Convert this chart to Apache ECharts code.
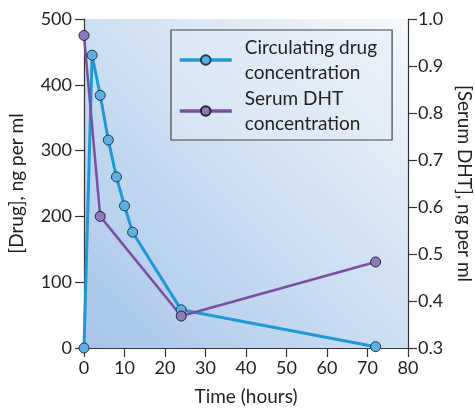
<!DOCTYPE html>
<html><head><meta charset="utf-8">
<script src="https://cdn.jsdelivr.net/npm/echarts@6/dist/echarts.min.js"></script>
<style>html,body{margin:0;padding:0;background:#fff}#c{width:475px;height:412px}</style>
</head><body><div id="c"></div>
<script>
const drugHours = [0, 2, 4, 6, 8, 10, 12, 24, 72];
const drugValues = [0, 445, 384, 316, 260, 216, 176, 58, 2];
const dhtHours = [0, 4, 24, 72];
const dhtValues = [0.965, 0.58, 0.368, 0.483];
const xTicks = [0, 10, 20, 30, 40, 50, 60, 70, 80];
const leftTicks = [0, 100, 200, 300, 400, 500];
const rightTicks = [0.3, 0.4, 0.5, 0.6, 0.7, 0.8, 0.9, 1.0];
const seriesNames = ['Circulating drug\nconcentration', 'Serum DHT\nconcentration'];

const FONT = 'Lato';
const TXT = '#231f20';
const chart = echarts.init(document.getElementById('c'), null, {renderer: 'canvas'});
const axisCommon = {
  axisLine: {show: true, lineStyle: {color: '#333', width: 1.2}},
  axisTick: {show: true, inside: false, length: 9, lineStyle: {color: '#333', width: 1.2}},
  splitLine: {show: false},
  axisLabel: {color: TXT, fontFamily: FONT, fontSize: 18},
  nameTextStyle: {color: TXT, fontFamily: FONT, fontSize: 19}
};
chart.setOption({
  animation: false,
  backgroundColor: '#fff',
  grid: {
    left: 84, right: 67, top: 19, bottom: 64, show: true, borderWidth: 0,
    outerBoundsMode: 'none', containLabel: false,
    backgroundColor: new echarts.graphic.LinearGradient(0, 1, 1, 0, [
      {offset: 0, color: '#a6c5e9'},
      {offset: 0.5, color: '#cddff2'},
      {offset: 1, color: '#f5f8fc'}
    ])
  },
  legend: {
    orient: 'vertical', left: 171, top: 30,
    padding: [5, 15, 4, 7], itemGap: 1,
    itemWidth: 52, itemHeight: 12,
    borderColor: '#444', borderWidth: 1.2, backgroundColor: 'rgba(225,235,247,0.5)',
    lineStyle: {width: 3.5},
    textStyle: {color: TXT, fontFamily: FONT, fontSize: 19, lineHeight: 25, padding: [0, 0, 0, 8]},
    data: seriesNames
  },
  xAxis: Object.assign({}, axisCommon, {
    type: 'value', min: xTicks[0], max: xTicks[xTicks.length - 1], interval: 10,
    name: 'Time (hours)', nameLocation: 'middle', nameGap: 39,
    axisLabel: Object.assign({}, axisCommon.axisLabel, {margin: 11})
  }),
  yAxis: [
    Object.assign({}, axisCommon, {
      type: 'value', min: leftTicks[0], max: leftTicks[leftTicks.length - 1], interval: 100,
      name: '[Drug], ng per ml', nameLocation: 'middle', nameGap: 58, nameRotate: 90,
      axisLabel: Object.assign({}, axisCommon.axisLabel, {margin: 12})
    }),
    Object.assign({}, axisCommon, {
      type: 'value', position: 'right', min: rightTicks[0], max: rightTicks[rightTicks.length - 1], interval: 0.1,
      name: '[Serum DHT], ng per ml', nameLocation: 'middle', nameGap: 47, nameRotate: -90,
      axisLabel: Object.assign({}, axisCommon.axisLabel, {margin: 10, formatter: v => v.toFixed(1)})
    })
  ],
  series: [
    {
      name: seriesNames[0], type: 'line', yAxisIndex: 0,
      data: drugHours.map((h, i) => [h, drugValues[i]]),
      symbol: 'circle', symbolSize: 10,
      lineStyle: {color: '#1f98d4', width: 3},
      itemStyle: {color: '#5eaedf', borderColor: '#1d3b57', borderWidth: 1}
    },
    {
      name: seriesNames[1], type: 'line', yAxisIndex: 1,
      data: dhtHours.map((h, i) => [h, dhtValues[i]]),
      symbol: 'circle', symbolSize: 10,
      lineStyle: {color: '#7a4fa0', width: 2.5},
      itemStyle: {color: '#8b7bb9', borderColor: '#2a2040', borderWidth: 1}
    }
  ]
});
</script></body></html>
